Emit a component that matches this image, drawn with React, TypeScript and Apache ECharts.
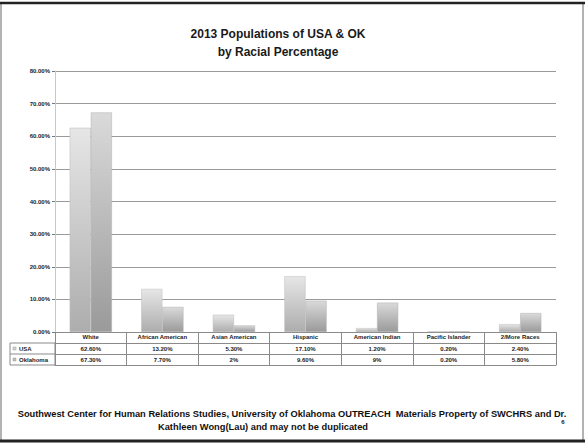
import React, { useEffect, useRef } from "react";
import * as echarts from "echarts";

const categories = [
  "White",
  "African American",
  "Asian American",
  "Hispanic",
  "American Indian",
  "Pacific Islander",
  "2/More Races",
];
const usaValues = [62.6, 13.2, 5.3, 17.1, 1.2, 0.2, 2.4];
const okValues = [67.3, 7.7, 2, 9.6, 9, 0.2, 5.8];
const seriesNames = ["USA", "Oklahoma"];
const yTicks = { min: 0, max: 80, interval: 10 };

const fmtCell = (v: number) =>
  Number.isInteger(v) ? `${v}%` : `${v.toFixed(2)}%`;

const FONT = "Liberation Sans";

export default function App() {
  const ref = useRef<HTMLDivElement>(null);
  useEffect(() => {
    if (!ref.current) return;
    const chart = echarts.init(ref.current, null, { renderer: "svg" });
    const gridLeft = 55;
    const gridRight = 29;
    const gridTop = 71;
    const gridBottom = 114;
    const axisY = 446 - gridBottom;
    const rowH = 11;

    const baseAxis = {
      type: "category" as const,
      data: categories,
      position: "bottom" as const,
      axisTick: {
        show: true,
        length: rowH,
        lineStyle: { color: "#8a8a8a", width: 1 },
      },
      axisLine: { show: true, lineStyle: { color: "#8a8a8a", width: 1 } },
      splitLine: { show: false },
    };
    const labelStyle = {
      fontSize: 6,
      fontWeight: "bold" as const,
      color: "#222",
      fontFamily: FONT,
    };

    const barGrad = (top: string, bottom: string) =>
      new echarts.graphic.LinearGradient(0, 0, 0, 1, [
        { offset: 0, color: top },
        { offset: 1, color: bottom },
      ]);

    const footStyle = {
      fontSize: 9.3,
      fontWeight: "bold" as const,
      fontFamily: FONT,
      fill: "#111",
      align: "center" as const,
      verticalAlign: "middle" as const,
    };

    chart.setOption({
      animation: false,
      backgroundColor: "#fff",
      title: {
        text: "2013 Populations of USA & OK\nby Racial Percentage",
        left: 273,
        top: 20,
        textAlign: "center",
        textStyle: {
          fontSize: 12,
          fontWeight: "bold",
          color: "#1a1a1a",
          fontFamily: FONT,
          lineHeight: 18,
        },
      },
      grid: {
        left: gridLeft,
        right: gridRight,
        top: gridTop,
        bottom: gridBottom,
        containLabel: false,
      },
      xAxis: [
        {
          ...baseAxis,
          axisLabel: { ...labelStyle, margin: 2, interval: 0 },
        },
        {
          ...baseAxis,
          offset: rowH,
          axisLabel: {
            ...labelStyle,
            margin: 3,
            interval: 0,
            formatter: (_v: string, i: number) => fmtCell(usaValues[i]),
          },
        },
        {
          ...baseAxis,
          offset: rowH * 2,
          axisLabel: {
            ...labelStyle,
            margin: 3,
            interval: 0,
            formatter: (_v: string, i: number) => fmtCell(okValues[i]),
          },
        },
        {
          ...baseAxis,
          offset: rowH * 3,
          axisTick: { show: false },
          axisLabel: { show: false },
        },
      ],
      yAxis: {
        type: "value",
        min: yTicks.min,
        max: yTicks.max,
        interval: yTicks.interval,
        axisLine: { show: true, lineStyle: { color: "#c8c8c8" } },
        axisTick: { show: true, length: 3, lineStyle: { color: "#777" } },
        axisLabel: {
          ...labelStyle,
          margin: 5,
          formatter: (v: number) => `${v.toFixed(2)}%`,
        },
        splitLine: { show: true, lineStyle: { color: "#9a9a9a", width: 1 } },
      },
      series: [
        {
          name: seriesNames[0],
          type: "bar",
          data: usaValues,
          barGap: "0%",
          barCategoryGap: "41%",
          itemStyle: {
            color: barGrad("#e6e6e6", "#adadad"),
            borderColor: "#bdbdbd",
            borderWidth: 0.5,
          },
        },
        {
          name: seriesNames[1],
          type: "bar",
          data: okValues,
          itemStyle: {
            color: barGrad("#dadada", "#9a9a9a"),
            borderColor: "#b0b0b0",
            borderWidth: 0.5,
          },
        },
      ],
      graphic: [
        {
          type: "rect",
          shape: { x: 1, y: 3, width: 582, height: 438 },
          style: { fill: "none", stroke: "#666", lineWidth: 1 },
        },
        {
          type: "line",
          shape: { x1: 0, y1: 3, x2: 585, y2: 3 },
          style: { stroke: "#222", lineWidth: 2.5 },
        },
        {
          type: "line",
          shape: { x1: 0, y1: 441, x2: 585, y2: 441 },
          style: { stroke: "#222", lineWidth: 3 },
        },
        {
          type: "rect",
          shape: { x: 10, y: axisY + rowH, width: gridLeft - 10, height: rowH * 2 },
          style: { fill: "none", stroke: "#8a8a8a", lineWidth: 1 },
        },
        {
          type: "line",
          shape: { x1: 10, y1: axisY + rowH * 2, x2: gridLeft, y2: axisY + rowH * 2 },
          style: { stroke: "#8a8a8a", lineWidth: 1 },
        },
        {
          type: "rect",
          shape: { x: 13, y: axisY + rowH + 4, width: 3, height: 3 },
          style: { fill: "#d8d8d8", stroke: "#999", lineWidth: 0.5 },
        },
        {
          type: "text",
          x: 19,
          y: axisY + rowH + 5.5,
          style: {
            text: seriesNames[0],
            fontSize: 6,
            fontWeight: "bold",
            fontFamily: FONT,
            fill: "#222",
            verticalAlign: "middle",
          },
        },
        {
          type: "rect",
          shape: { x: 13, y: axisY + rowH * 2 + 4, width: 3, height: 3 },
          style: { fill: "#c0c0c0", stroke: "#999", lineWidth: 0.5 },
        },
        {
          type: "text",
          x: 19,
          y: axisY + rowH * 2 + 5.5,
          style: {
            text: seriesNames[1],
            fontSize: 6,
            fontWeight: "bold",
            fontFamily: FONT,
            fill: "#222",
            verticalAlign: "middle",
          },
        },
        {
          type: "text",
          x: 292,
          y: 414,
          style: {
            ...footStyle,
            text:
              "Southwest Center for Human Relations Studies, University of Oklahoma OUTREACH  Materials Property of SWCHRS and Dr.",
          },
        },
        {
          type: "text",
          x: 263,
          y: 427,
          style: {
            ...footStyle,
            text: "Kathleen Wong(Lau) and may not be duplicated",
          },
        },
        {
          type: "text",
          x: 563,
          y: 422,
          style: {
            ...footStyle,
            fontSize: 6,
            text: "6",
          },
        },
      ],
    });
    return () => chart.dispose();
  }, []);
  return (
    <div
      ref={ref}
      style={{ position: "fixed", left: 0, top: 0, width: 585, height: 446 }}
    />
  );
}
